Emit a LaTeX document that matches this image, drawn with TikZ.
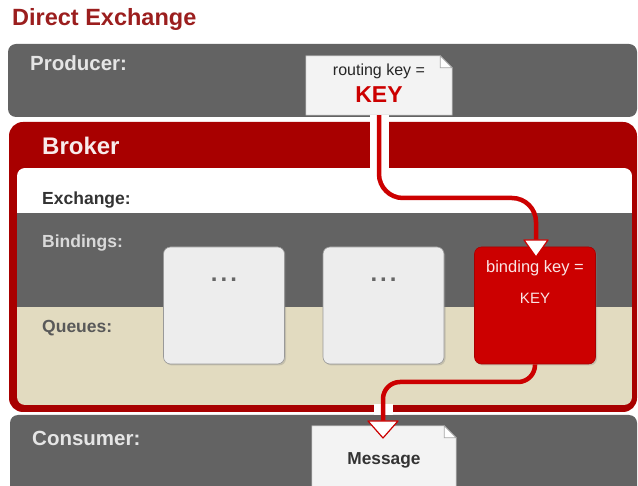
\documentclass[tikz,border=0pt]{standalone}
\usepackage{fontspec}
\setmainfont{Liberation Sans}
\usetikzlibrary{positioning, calc, shadows}
\definecolor{titlered}{RGB}{155,30,30}
\definecolor{bargray}{RGB}{99,99,99}
\definecolor{brokerred}{RGB}{168,0,0}
\definecolor{queuebeige}{RGB}{226,219,192}
\definecolor{boxgray}{RGB}{237,237,237}
\definecolor{notegray}{RGB}{243,243,243}
\definecolor{keyred}{RGB}{204,0,0}

\tikzset{
  bar/.style={fill=bargray, rounded corners=8pt, inner sep=0pt},
  lbl/.style={anchor=west, inner sep=0pt, font=\bfseries\fontsize{17.5}{20}\selectfont},
  queuebox/.style={fill=boxgray, draw=black!40, line width=0.6pt, rounded corners=7pt,
    minimum width=121pt, minimum height=117pt, inner sep=0pt,
    drop shadow={shadow xshift=1.5pt, shadow yshift=-1.5pt, opacity=0.3}},
  dotrow/.style={text=black!60, font=\bfseries\fontsize{24}{24}\selectfont},
  note/.style={minimum width=146pt, inner sep=0pt},
  notepaper/.style={fill=notegray, draw=black!35, line width=0.6pt},
  flow/.style={draw=keyred, line width=4.5pt},
  halo/.style={draw=white, line width=19pt},
  tip/.style={fill=white, draw=keyred, line width=1.2pt, line join=round}
}

\begin{document}
\begin{tikzpicture}[x=1pt, y=-1pt]
  \useasboundingbox (0,0) rectangle (638,486);
  \clip (0,0) rectangle (638,486);

  \node[anchor=west, inner sep=0pt, text=titlered, font=\bfseries\fontsize{23.5}{26}\selectfont] (title) at (12,19) {Direct Exchange};

  \node[bar, minimum width=629pt, minimum height=73pt] (producer) at (322.5,80.5) {};
  \node[bar, minimum width=627pt, minimum height=85pt] (consumer) at (323.5,457.5) {};
  \node[fill=brokerred, rounded corners=14pt, minimum width=628pt, minimum height=290pt, inner sep=0pt] (broker) at (323,267) {};

  \begin{scope}
    \clip[rounded corners=8pt] (17,168) rectangle (632,405);
    \fill[white] (17,168) rectangle (632,213);
    \fill[bargray] (17,213) rectangle (632,307);
    \fill[queuebeige] (17,307) rectangle (632,405);
  \end{scope}

  \node[lbl, text=white!90!black, font=\bfseries\fontsize{20.5}{22}\selectfont] (prodlbl) at (30,63) {Producer:};
  \node[lbl, text=white!92!brokerred, font=\bfseries\fontsize{24}{26}\selectfont] (brokerlbl) at (42,146) {Broker};
  \node[lbl, text=black!80] (exlbl) at (42,200) {Exchange:};
  \node[lbl, text=white!85!black] (bindlbl) at (42,243) {Bindings:};
  \node[lbl, text=black!65] (queuelbl) at (42,328) {Queues:};
  \node[lbl, text=white!90!black, font=\bfseries\fontsize{20.5}{22}\selectfont] (conslbl) at (32,438) {Consumer:};

  \node[queuebox] (q1) at (224,305.5) {};
  \node[queuebox] (q2) at (383.5,305.5) {};
  \node[queuebox, fill=keyred, draw=brokerred] (bkey) at (535,305.5) {};
  \node[dotrow] (dots1) at ($(q1.north)+(0,33)$) {.\kern3pt.\kern3pt.};
  \node[dotrow] (dots2) at ($(q2.north)+(0,33)$) {.\kern3pt.\kern3pt.};
  \node[text=white!90!keyred, font=\fontsize{16.5}{18}\selectfont] (bindtxt) at ($(bkey.north)+(0,22)$) {binding key =};
  \node[text=white!90!keyred, font=\fontsize{15}{17}\selectfont] (bindkey) at ($(bkey.north)+(0,52)$) {KEY};

  \node[note, minimum height=59pt] (rkey) at (379,85.5) {};
  \filldraw[notepaper] (rkey.south west) -- (rkey.north west) -- ($(rkey.north east)+(-12,0)$)
    -- ($(rkey.north east)+(0,12)$) -- (rkey.south east) -- cycle;
  \filldraw[fill=white, draw=black!35, line width=0.6pt] ($(rkey.north east)+(-12,0)$)
    -- ($(rkey.north east)+(-12,12)$) -- ($(rkey.north east)+(0,12)$) -- cycle;
  \node[font=\fontsize{16}{18}\selectfont, text=black!85] (rtxt) at ($(rkey.north)+(0,16)$) {routing key =};
  \node[font=\bfseries\fontsize{23}{25}\selectfont, text=keyred] (rword) at ($(rkey.north)+(0,39)$) {KEY};

  \node[note, minimum width=144pt, minimum height=74pt] (msg) at (384,463) {};
  \filldraw[notepaper] (msg.south west) -- (msg.north west) -- ($(msg.north east)+(-12,0)$)
    -- ($(msg.north east)+(0,12)$) -- (msg.south east) -- cycle;
  \filldraw[fill=white, draw=black!35, line width=0.6pt] ($(msg.north east)+(-12,0)$)
    -- ($(msg.north east)+(-12,12)$) -- ($(msg.north east)+(0,12)$) -- cycle;
  \node[font=\bfseries\fontsize{17.3}{19}\selectfont, text=black!80] (msgtxt) at ($(msg.north)+(0,35)$) {Message};

  \coordinate (inturn) at (536,198);
  \coordinate (inbase) at (536,240);
  \coordinate (inapex) at (536,257);
  \coordinate (outturn) at (383,382);
  \coordinate (outbase) at (383,421);
  \coordinate (outapex) at (383,438);

  \draw[halo] (rkey.south) -- ($(rkey.south |- broker.north)+(0,46)$);
  \draw[halo] ($(outbase |- broker.south)+(0,-8)$) -- (outbase |- consumer.north);
  \draw[flow, rounded corners=24pt] (rkey.south) |- (inturn) -- (inbase);
  \draw[flow, rounded corners=17pt] (bkey.south) |- (outturn) -- (outbase);
  \filldraw[tip] ($(inapex)+(-12,-17)$) -- ($(inapex)+(12,-17)$) -- (inapex) -- cycle;
  \filldraw[tip] ($(outapex)+(-15,-17)$) -- ($(outapex)+(15,-17)$) -- (outapex) -- cycle;
\end{tikzpicture}
\end{document}
